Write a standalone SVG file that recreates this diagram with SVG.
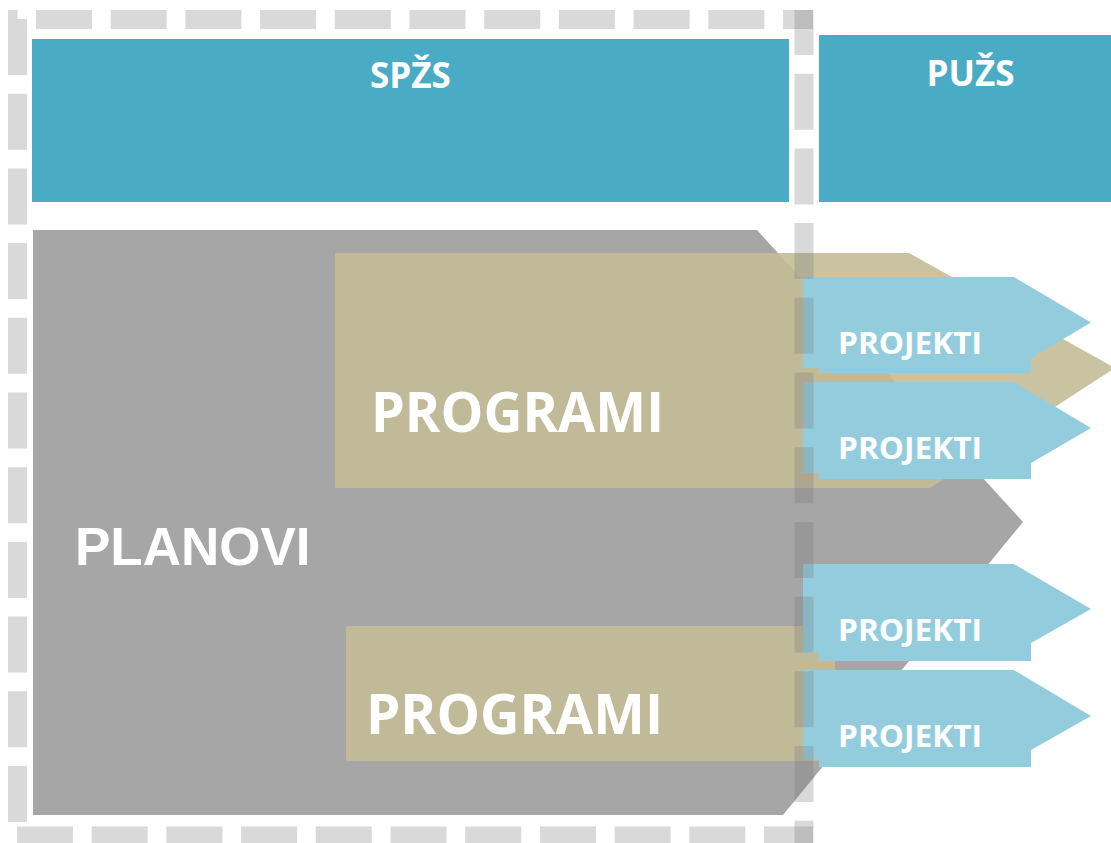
<svg xmlns="http://www.w3.org/2000/svg" width="1111" height="843" viewBox="0 0 1111 843">
<style>
.hdr{fill:#4aabc5}
.plan{fill:#a6a6a6}
.prog{fill:#c4bd97;fill-opacity:0.9}
.proj{fill:#93cddd}
.t{fill:#ffffff;font-family:"Open Sans","Liberation Sans",sans-serif;font-weight:bold}
.ta{fill:#ffffff;font-family:"Liberation Sans",Arial,sans-serif;font-weight:bold}
.dash{stroke:#787878;stroke-opacity:0.28;stroke-width:19;stroke-dasharray:56 18.7;fill:none}
</style>
<rect width="1111" height="843" fill="#ffffff"/>
<g id="planovi">
<polygon class="plan" points="33,230 757,230 1023,522 783,815 33,815"/>
<text class="ta" x="75" y="565" font-size="53">PLANOVI</text>
</g>
<g id="programi-1">
<polygon class="prog" points="335,253 909,253 1115,368 930,488 335,488"/>
<text class="t" x="371" y="432" font-size="55" textLength="293" lengthAdjust="spacingAndGlyphs">PROGRAMI</text>
</g>
<g id="programi-2">
<rect class="prog" x="346" y="626" width="489" height="135"/>
<text class="t" x="366" y="734" font-size="55" textLength="297" lengthAdjust="spacingAndGlyphs">PROGRAMI</text>
</g>
<g id="projekti-1">
<path class="proj" d="M803,277 H1014 L1091,322.5 L1031,358 V373 H819 V368 H803 Z"/>
<text class="t" x="838" y="354" font-size="31" textLength="144" lengthAdjust="spacingAndGlyphs">PROJEKTI</text>
</g>
<g id="projekti-2">
<path class="proj" d="M803,382 H1014 L1091,428 L1031,463 V479 H819 V473 H803 Z"/>
<text class="t" x="838" y="459" font-size="31" textLength="144" lengthAdjust="spacingAndGlyphs">PROJEKTI</text>
</g>
<g id="projekti-3">
<path class="proj" d="M803,564 H1014 L1091,609 L1031,643 V661 H819 V653 H803 Z"/>
<text class="t" x="838" y="641" font-size="31" textLength="144" lengthAdjust="spacingAndGlyphs">PROJEKTI</text>
</g>
<g id="projekti-4">
<path class="proj" d="M803,670 H1014 L1091,716 L1031,750 V767 H819 V760 H803 Z"/>
<text class="t" x="838" y="747" font-size="31" textLength="144" lengthAdjust="spacingAndGlyphs">PROJEKTI</text>
</g>
<g id="spzs">
<rect class="hdr" x="32" y="39" width="757" height="163"/>
<text class="t" x="410.5" y="88" font-size="35" text-anchor="middle">SPŽS</text>
</g>
<g id="puzs">
<rect class="hdr" x="819" y="35" width="292" height="167"/>
<text class="t" x="970.5" y="86" font-size="35" text-anchor="middle">PUŽS</text>
</g>
<g id="boundary">
<line class="dash" x1="36" y1="19.5" x2="813" y2="19.5"/>
<line class="dash" x1="804" y1="10" x2="804" y2="846" stroke-dashoffset="11"/>
<line class="dash" x1="17" y1="836" x2="813" y2="836"/>
<line class="dash" x1="17.5" y1="19" x2="17.5" y2="826"/>
<rect x="8" y="10" width="9.5" height="9" fill="#787878" fill-opacity="0.28"/>
</g>
<g id="connectors"/>
</svg>
